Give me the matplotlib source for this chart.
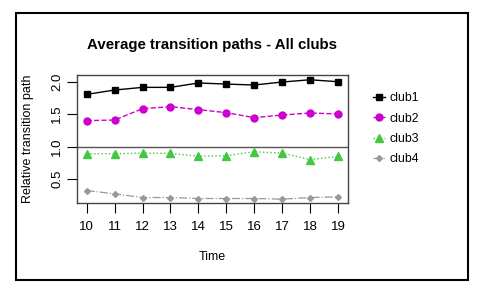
import matplotlib
matplotlib.use("Agg")
import matplotlib.pyplot as plt
from matplotlib.patches import Rectangle

plt.rcParams["font.family"] = ["Liberation Sans", "DejaVu Sans"]

time = [10, 11, 12, 13, 14, 15, 16, 17, 18, 19]
club1 = [1.805, 1.872, 1.913, 1.913, 1.98, 1.964, 1.949, 1.995, 2.03, 2.0]
club2 = [1.40, 1.41, 1.585, 1.615, 1.57, 1.523, 1.446, 1.487, 1.518, 1.503]
club3 = [0.89, 0.89, 0.90, 0.895, 0.853, 0.86, 0.92, 0.90, 0.80, 0.848]
club4 = [0.323, 0.272, 0.215, 0.215, 0.2, 0.2, 0.2, 0.19, 0.215, 0.226]


def main():
    fig = plt.figure(figsize=(4.84, 2.89), dpi=100)
    ax = fig.add_axes([0.159, 0.2965, 0.56, 0.445])

    ax.axhline(1.0, color="#555555", lw=1.0, zorder=1)
    ax.plot(time, club1, "-", color="black", marker="s", ms=5, lw=1.0, label="club1")
    ax.plot(time, club2, "--", color="#CD00CD", marker="o", ms=5, lw=1.0, label="club2")
    ax.plot(time, club3, ":", color="#44C844", marker="^", ms=5.5, lw=1.0, label="club3")
    ax.plot(time, club4, "-.", color="#999999", marker="D", ms=3, lw=0.9, label="club4")

    ax.set_xlim(9.65, 19.36)
    ax.set_ylim(0.126, 2.108)
    ax.set_xticks(time)
    ax.set_yticks([0.5, 1.0, 1.5, 2.0])
    ax.set_yticklabels(["0.5", "1.0", "1.5", "2.0"], rotation=90, va="center")
    ax.tick_params(direction="out", length=7, width=0.8, labelsize=9.5)
    ax.tick_params(axis="x", pad=6)
    ax.tick_params(axis="y", pad=3)
    for s in ax.spines.values():
        s.set_color("#444444")
        s.set_linewidth(1.0)

    ax.set_xlabel("Time", fontsize=9, labelpad=13)
    ax.set_ylabel("Relative transition path", fontsize=9, labelpad=12)
    fig.text(0.439, 0.844, "Average transition paths - All clubs", ha="center",
             va="center", fontsize=10.8, fontweight="bold")

    fig.legend(loc="upper left", bbox_to_anchor=(0.76, 0.697), frameon=False,
               fontsize=8.8, handlelength=1.0, handletextpad=0.4,
               labelspacing=0.68, borderaxespad=0)

    fig.patches.append(Rectangle((16 / 484, 1 - 280 / 289), 452 / 484, 267 / 289,
                                 transform=fig.transFigure, fill=False,
                                 edgecolor="black", lw=1.5))

    fig.savefig("out.png", dpi=100)


if __name__ == "__main__":
    main()
